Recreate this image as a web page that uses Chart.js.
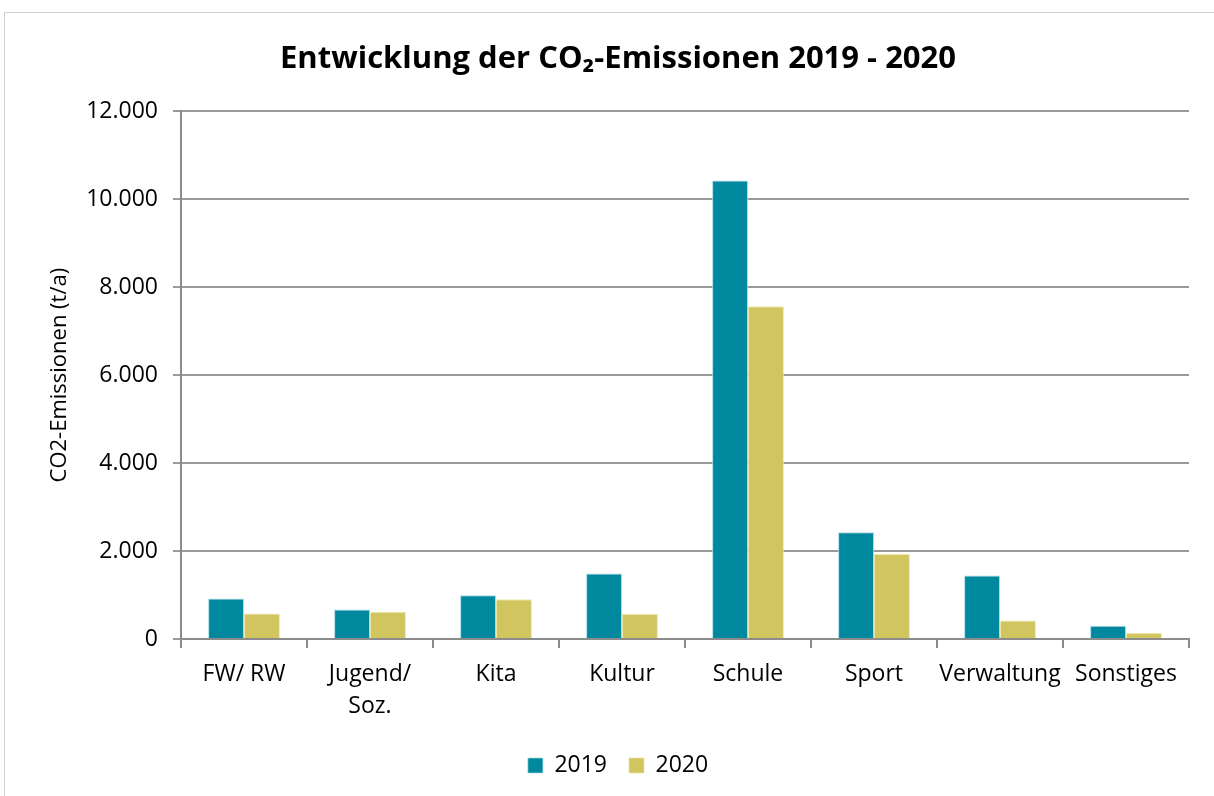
<!DOCTYPE html>
<html>
<head>
<meta charset="utf-8">
<script src="https://cdn.jsdelivr.net/npm/chart.js@4.4.1/dist/chart.umd.min.js"></script>
<style>
  html, body { margin: 0; padding: 0; background: #fff; }
  #frame { position: absolute; left: 4px; top: 12px; width: 1220px; height: 800px; border: 1px solid #d0d0d0; box-sizing: border-box; }
  #wrap { position: absolute; left: 0; top: 0; width: 1214px; height: 796px; }
</style>
</head>
<body>
<div id="frame"></div>
<div id="wrap"><canvas id="c" width="1214" height="796"></canvas></div>
<script>
const categories = ["FW/ RW", ["Jugend/", "Soz."], "Kita", "Kultur", "Schule", "Sport", "Verwaltung", "Sonstiges"];
const values2019 = [923, 673, 998, 1490, 10426, 2427, 1444, 302];
const values2020 = [583, 620, 907, 567, 7568, 1935, 423, 136];
const seriesNames = ["2019", "2020"];
const titleText = "Entwicklung der CO₂-Emissionen 2019 - 2020";
const yAxisTitle = "CO2-Emissionen (t/a)";

function deFormat(v) {
  const s = Math.round(v).toString();
  return s.replace(/\B(?=(\d{3})+(?!\d))/g, ".");
}

const FONT = "'Open Sans', Lato, sans-serif";
Chart.defaults.font.family = FONT;
Chart.defaults.color = "#000";

new Chart(document.getElementById("c"), {
  type: "bar",
  data: {
    labels: categories,
    datasets: [
      { label: seriesNames[0], data: values2019, backgroundColor: "#00889E", borderColor: "rgba(160,215,225,0.9)", borderWidth: {top:1,left:1,right:1,bottom:0} },
      { label: seriesNames[1], data: values2020, backgroundColor: "#D1C55F", borderColor: "rgba(235,228,160,0.9)", borderWidth: {top:1,left:1,right:1,bottom:0} }
    ]
  },
  options: {
    responsive: false,
    animation: false,
    devicePixelRatio: 1,
    layout: { padding: { left: 47, right: 25, top: 41, bottom: 9 } },
    datasets: { bar: { categoryPercentage: 0.57, barPercentage: 1.0 } },
    plugins: {
      title: {
        display: true,
        text: titleText,
        font: { size: 31, weight: "bold", family: FONT, lineHeight: 1.2 },
        color: "#000",
        padding: { top: 0, bottom: 33 }
      },
      legend: {
        position: "bottom",
        labels: { boxWidth: 15, boxHeight: 15, font: { size: 23 }, padding: 22, color: "#000" }
      },
      tooltip: { enabled: false }
    },
    scales: {
      x: {
        offset: true,
        grid: { display: true, offset: true, drawOnChartArea: false, drawTicks: true, tickLength: 9, color: "#8c8c8c", lineWidth: 2 },
        border: { display: true, color: "#8c8c8c", width: 2 },
        ticks: { font: { size: 23, lineHeight: 1.39 }, color: "#000", padding: 10, maxRotation: 0, autoSkip: false }
      },
      y: {
        min: 0, max: 12000,
        afterFit: (s) => { s.width = 134; },
        ticks: { stepSize: 2000, font: { size: 23 }, color: "#000", padding: 15, callback: (v) => deFormat(v) },
        grid: { color: "#9a9a9a", lineWidth: 2, tickLength: 8 },
        border: { display: true, color: "#8c8c8c", width: 2 },
        title: { display: true, text: yAxisTitle, font: { size: 22 }, color: "#000", padding: { top: 0, bottom: 8 } }
      }
    }
  }
});
</script>
</body>
</html>
